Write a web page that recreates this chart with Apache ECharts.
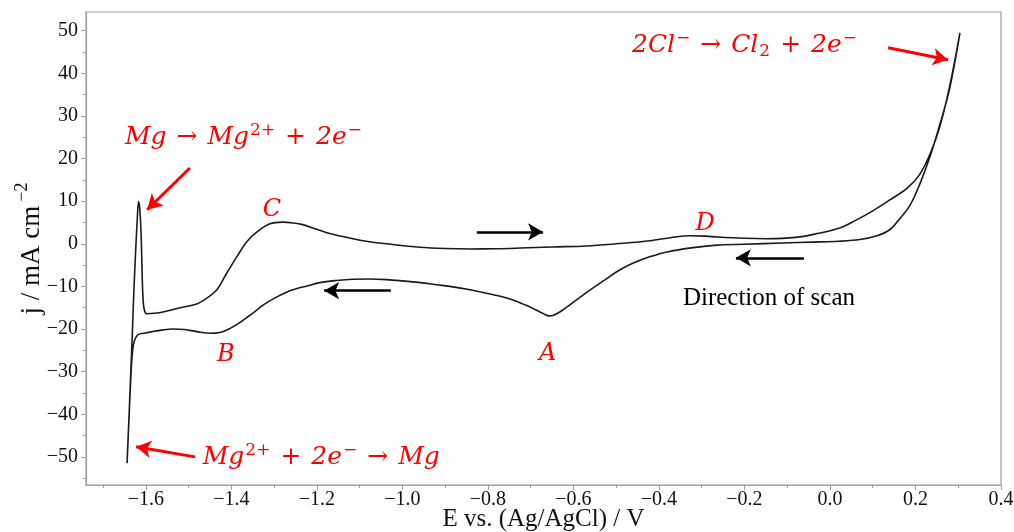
<!DOCTYPE html>
<html><head><meta charset="utf-8">
<script src="https://cdn.jsdelivr.net/npm/echarts@6/dist/echarts.min.js"></script>
<style>html,body{margin:0;padding:0;background:#fff}#c{width:1014px;height:532px}</style>
</head><body><div id="c"></div>
<script>
// Reverse (cathodic) scan: from the anodic vertex leftwards to the cathodic vertex
const reverseE = [0.304, 0.28, 0.257, 0.234, 0.21, 0.187, 0.16, 0.14, 0.11, 0.07, 0.02, -0.04, -0.11, -0.2, -0.264, -0.32, -0.381, -0.42, -0.46, -0.491, -0.53, -0.569, -0.6, -0.632, -0.648, -0.658, -0.668, -0.69, -0.709, -0.735, -0.756, -0.803, -0.842, -0.882, -0.92, -0.959, -1.0, -1.037, -1.077, -1.116, -1.155, -1.193, -1.223, -1.25, -1.27, -1.3, -1.326, -1.345, -1.364, -1.385, -1.404, -1.427, -1.45, -1.481, -1.51, -1.537, -1.56, -1.585, -1.605, -1.618, -1.626, -1.631, -1.635, -1.639, -1.644];
const reverseJ = [49.5, 36.5, 28.0, 20.5, 14.0, 9.0, 5.5, 3.3, 1.9, 1.0, 0.6, 0.4, 0.2, -0.1, -0.3, -0.9, -1.9, -3.0, -4.5, -6.1, -8.7, -11.4, -13.7, -16.0, -16.8, -16.9, -16.5, -15.4, -14.5, -13.4, -12.7, -11.6, -10.8, -10.1, -9.6, -9.1, -8.7, -8.4, -8.25, -8.3, -8.6, -9.1, -9.9, -10.6, -11.3, -12.8, -14.4, -15.9, -17.3, -18.8, -19.9, -20.8, -21.0, -20.6, -20.1, -20.0, -20.2, -20.6, -21.0, -21.3, -22.5, -25, -31, -40, -51.5];
// Forward (anodic) scan: from the cathodic vertex rightwards back to the anodic vertex
const forwardE = [-1.644, -1.64, -1.636, -1.632, -1.628, -1.624, -1.62, -1.617, -1.614, -1.611, -1.609, -1.607, -1.604, -1.598, -1.58, -1.56, -1.52, -1.481, -1.457, -1.434, -1.411, -1.387, -1.364, -1.34, -1.31, -1.28, -1.255, -1.233, -1.2, -1.17, -1.116, -1.077, -1.037, -0.959, -0.9, -0.842, -0.78, -0.725, -0.65, -0.569, -0.5, -0.421, -0.37, -0.327, -0.29, -0.264, -0.2, -0.147, -0.08, -0.03, 0.023, 0.06, 0.101, 0.14, 0.18, 0.21, 0.235, 0.257, 0.28, 0.304];
const forwardJ = [-51.5, -42, -32, -22, -11, -2, 6, 9.9, 8, 2, -6, -12, -15.3, -16.4, -16.3, -16.0, -15.0, -14.1, -12.7, -10.8, -6.9, -3.0, 0.5, 2.8, 4.7, 5.1, 4.9, 4.5, 3.4, 2.4, 1.2, 0.5, 0.0, -0.8, -1.1, -1.2, -1.15, -1.0, -0.75, -0.5, 0.0, 0.7, 1.5, 1.9, 1.8, 1.6, 1.3, 1.2, 1.5, 2.4, 3.7, 5.5, 7.8, 10.3, 13.0, 16.3, 21.3, 27.5, 37, 49.5];

const xMajorTicks = [-1.6, -1.4, -1.2, -1.0, -0.8, -0.6, -0.4, -0.2, 0.0, 0.2, 0.4];
const xMinorTicks = [-1.7, -1.5, -1.3, -1.1, -0.9, -0.7, -0.5, -0.3, -0.1, 0.1, 0.3];
const yMajorTicks = [-50, -40, -30, -20, -10, 0, 10, 20, 30, 40, 50];
const yMinorTicks = [-55, -45, -35, -25, -15, -5, 5, 15, 25, 35, 45];

const peakLabels = ['A', 'B', 'C', 'D'];
const peakE = [-0.66, -1.413, -1.305, -0.292];
const peakJ = [-25.8, -26.1, 8.0, 4.7];

const loop = reverseE.map((e, i) => [e, reverseJ[i]]).concat(forwardE.map((e, i) => [e, forwardJ[i]]));

const RED = '#ff0000';
const SERIF = 'Liberation Serif';
const MATH = 'DejaVu Serif';
const minus = v => String(v).replace('-', '\u2212');

const eqRich = {
  i: { fontFamily: MATH, fontStyle: 'italic', fontSize: 25, color: RED },
  n: { fontFamily: MATH, fontSize: 25, color: RED, padding: [0, 10, 0, 10] },
  s: { fontFamily: MATH, fontStyle: 'normal', fontSize: 17, color: RED, padding: [0, 0, 14, 1] },
  b: { fontFamily: MATH, fontStyle: 'normal', fontSize: 17, color: RED, padding: [12, 0, 0, 1] }
};

function textPoint(coord, formatter, rich) {
  return {
    coord: coord, symbol: 'circle', symbolSize: 0,
    label: { show: true, position: 'right', distance: 0, formatter: formatter, rich: rich }
  };
}
function arrow(from, to, color, width) {
  return [
    { coord: from, lineStyle: { color: color, width: width, type: 'solid' } },
    { coord: to }
  ];
}

const markPoints = [
  textPoint([-1.649, 24.9], '{i|Mg}{n|\u2192}{i|Mg}{s|2+}{n|+}{i|2e}{s|\u2212}', eqRich),
  textPoint([-1.467, -50.2], '{i|Mg}{s|2+}{n|+}{i|2e}{s|\u2212}{n|\u2192}{i|Mg}', eqRich),
  textPoint([-0.463, 46.5], '{i|2Cl}{s|\u2212}{n|\u2192}{i|Cl}{b|2}{n|+}{i|2e}{s|\u2212}', eqRich),
  textPoint([-0.344, -12.9], '{t|Direction of scan}', { t: { fontFamily: SERIF, fontSize: 25, color: '#000' } })
].concat(peakLabels.map((t, i) => ({
  coord: [peakE[i], peakJ[i]], symbol: 'circle', symbolSize: 0,
  label: { show: true, position: 'inside', formatter: t, fontFamily: MATH, fontStyle: 'italic', fontSize: 24, color: RED }
})));

const markLines = [
  arrow([0.136, 46.0], [0.276, 43.2], RED, 3),
  arrow([-1.497, 17.8], [-1.597, 8.0], RED, 3),
  arrow([-1.485, -50.0], [-1.623, -47.6], RED, 3),
  arrow([-0.826, 2.8], [-0.671, 2.8], '#000', 2.5),
  arrow([-1.027, -11.0], [-1.183, -11.0], '#000', 2.5),
  arrow([-0.061, -3.3], [-0.22, -3.3], '#000', 2.5)
];

const axisGray = '#a0a0a0';
const chart = echarts.init(document.getElementById('c'), null, { renderer: 'canvas' });
chart.setOption({
  animation: false,
  backgroundColor: '#fff',
  grid: { left: 86, right: 13, top: 12, bottom: 47, outerBoundsMode: 'none', containLabel: false, show: true, borderColor: axisGray, borderWidth: 1.2, backgroundColor: 'transparent' },
  xAxis: [{
    type: 'value', min: -1.74, max: 0.4,
    name: 'E vs. (Ag/AgCl) / V', nameLocation: 'middle', nameGap: 22, nameMoveOverlap: false,
    nameTextStyle: { fontFamily: SERIF, fontSize: 25, color: '#111', verticalAlign: 'top' },
    axisLine: { show: true, onZero: false, lineStyle: { color: axisGray, width: 1.2 } },
    axisTick: { show: true, inside: false, length: 5, lineStyle: { color: axisGray }, customValues: xMajorTicks },
    axisLabel: { show: true, customValues: xMajorTicks, margin: 5, fontFamily: SERIF, fontSize: 20, color: '#111', formatter: v => minus(v.toFixed(1)) },
    splitLine: { show: false }
  }, {
    type: 'value', min: -1.74, max: 0.4, position: 'bottom', gridIndex: 0,
    axisLine: { show: false, onZero: false },
    axisTick: { show: true, length: 3, lineStyle: { color: axisGray }, customValues: xMinorTicks },
    axisLabel: { show: false }, splitLine: { show: false }
  }],
  yAxis: [{
    type: 'value', min: -56.6, max: 54.4,
    name: '{m|j / mA cm}{s|\u22122}', nameLocation: 'middle', nameGap: 35, nameRotate: 90, nameMoveOverlap: false,
    nameTextStyle: { rich: {
      m: { fontFamily: SERIF, fontSize: 27, color: '#111' },
      s: { fontFamily: SERIF, fontSize: 18, color: '#111', padding: [0, 0, 20, 4] }
    } },
    axisLine: { show: true, onZero: false, lineStyle: { color: axisGray, width: 1.2 } },
    axisTick: { show: true, length: 5, lineStyle: { color: axisGray }, customValues: yMajorTicks },
    axisLabel: { show: true, customValues: yMajorTicks, margin: 8, fontFamily: SERIF, fontSize: 20, color: '#111', formatter: v => minus(v) },
    splitLine: { show: false }
  }, {
    type: 'value', min: -56.6, max: 54.4, position: 'left', gridIndex: 0,
    axisLine: { show: false, onZero: false },
    axisTick: { show: true, length: 3, lineStyle: { color: axisGray }, customValues: yMinorTicks },
    axisLabel: { show: false }, splitLine: { show: false }
  }],
  series: [{
    type: 'line', data: loop, smooth: 0.35, showSymbol: false, symbol: 'none',
    lineStyle: { color: '#1a1a1a', width: 1.6 },
    clip: false, silent: true,
    markPoint: { silent: true, animation: false, data: markPoints },
    markLine: { silent: true, animation: false, symbol: ['none', 'arrow'], symbolSize: [13, 15], label: { show: false }, emphasis: { disabled: true }, data: markLines }
  }]
});
</script></body></html>
